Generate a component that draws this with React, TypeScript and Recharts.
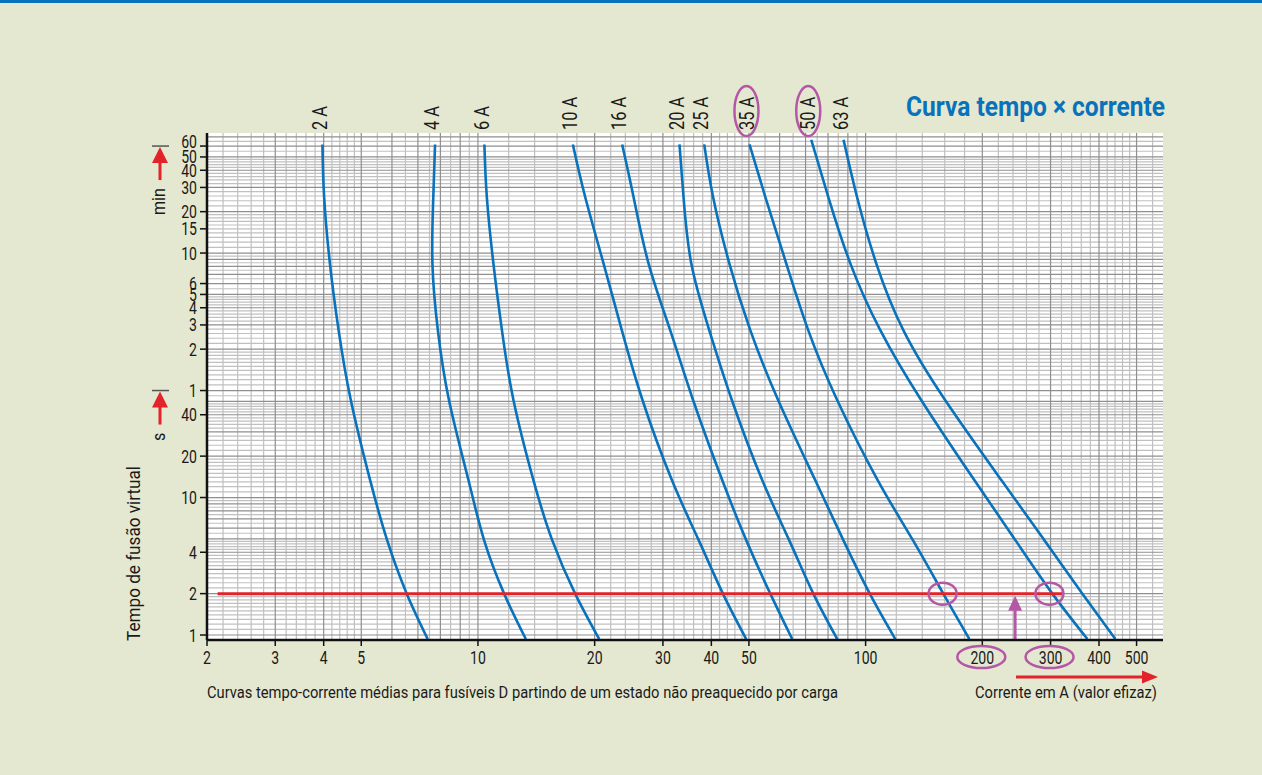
import React from 'react';
import { LineChart, Line, XAxis, YAxis, CartesianGrid, ReferenceDot } from 'recharts';

const FONT = 'Roboto, "Noto Sans", sans-serif';
const INK = '#1a1a1a';
const BLUE = '#0872bc';
const RED = '#e2232a';
const PURPLE = '#b458a6';
const BG = '#e5e8d0';

// one curve per fuse rating
const fuseNames = ['2 A', '4 A', '6 A', '10 A', '16 A', '20 A', '25 A', '35 A', '50 A', '63 A'];
const circledFuses = ['35 A', '50 A'];
// time (s) where each curve starts at the top of the chart
const fuseTopTimes = [3700, 3700, 3700, 3700, 3700, 3700, 3700, 3700, 4000, 4000];
// the following times (s) at which the currents were read
const timeLevels = [1540, 505, 165, 51, 13.4, 4.9, 2, 0.935];

// currents (A): top time first, then one value per time level
const current2A = [3.97, 4.01, 4.15, 4.37, 4.7, 5.27, 5.83, 6.55, 7.42];
const current4A = [7.75, 7.67, 7.63, 7.88, 8.42, 9.45, 10.37, 11.68, 13.29];
const current6A = [10.39, 10.54, 10.96, 11.53, 12.35, 13.9, 15.54, 17.81, 20.54];
const current10A = [17.57, 18.9, 21.08, 23.5, 26.58, 31.64, 37.1, 42.84, 49.2];
const current16A = [23.55, 25.19, 27.54, 31.32, 35.9, 42.66, 49.2, 56.76, 64.66];
const current20A = [33.1, 33.9, 35.5, 39.5, 45.2, 54.1, 63.5, 73.3, 84.5];
const current25A = [38.34, 40.4, 44.5, 50.4, 59.5, 74.1, 87.6, 102.5, 119.3];
const current35A = [50.16, 55.1, 62.4, 71.1, 84.5, 107.4, 132.4, 158.6, 185.2];
const current50A = [72.4, 80.1, 91.3, 109.1, 139.2, 190.7, 243.4, 303.2, 373.3];
const current63A = [87.7, 95.0, 106.5, 125.1, 160.5, 223.9, 289.0, 362.4, 440.8];

const fuseCurrents = [
  current2A, current4A, current6A, current10A, current16A,
  current20A, current25A, current35A, current50A, current63A,
];

// example reading: 2 s line, marked crossings and the current arrow
const readingTime = 2;
const readingFrom = 2.13;
const readingTo = 321;
const markedCurrents = [158, 298];
const arrowCurrent = 243;
const arrowTimes = [0.92, 1.53];

// axes
const xDomain = [2, 585];
const yDomain = [0.92, 4480];
const xTicks = [2, 3, 4, 5, 10, 20, 30, 40, 50, 100, 200, 300, 400, 500];
const circledTicks = [200, 300];
const yTicks = [1, 2, 4, 10, 20, 40, 60, 120, 180, 240, 300, 360, 600, 900, 1200, 1800, 2400, 3000, 3600];
const yTickLabels = ['1', '2', '4', '10', '20', '40', '1', '2', '3', '4', '5', '6', '10', '15', '20', '30', '40', '50', '60'];
const raisedYLabels = [3600];
const unitMarks = [{ t: 60, unit: 's' }, { t: 3600, unit: 'min' }];

// grid spacing: [from, to, step]
const xGridSpec = [[2, 5, 0.2], [5, 10, 0.5], [10, 50, 2], [50, 100, 5], [100, 500, 20], [500, 600, 50]];
const yGridSpec = [[1, 2, 0.1], [2, 5, 0.2], [5, 10, 0.5], [10, 20, 1], [20, 50, 2], [50, 60, 5], [60, 120, 6], [120, 300, 12], [300, 600, 30], [600, 1200, 60], [1200, 3000, 120], [3000, 4500, 300]];

const gridValues = (spec: number[][], lo: number, hi: number) => {
  const out: number[] = [];
  spec.forEach(([a, b, s]) => {
    for (let v = a; v < b - s / 2; v += s) out.push(Math.round(v * 1000) / 1000);
  });
  return out.filter((v) => v > lo && v < hi);
};
const isRound = (v: number) => {
  const d = Math.pow(10, Math.floor(Math.log10(v) + 1e-9));
  return Math.abs(v / d - Math.round(v / d)) < 1e-6;
};
const xGrid = gridValues(xGridSpec, xDomain[0], xDomain[1]);
const yGrid = gridValues(yGridSpec, yDomain[0], yDomain[1]);
const xGridMajor = xGrid.filter(isRound);
const xGridMinor = xGrid.filter((v) => !isRound(v));
const yGridMajor = yGrid.filter((v) => (v < 60 ? isRound(v) : isRound(v / 60)));
const yGridMinor = yGrid.filter((v) => !yGridMajor.includes(v));

const series = fuseNames.map((name, k) => {
  const times = [fuseTopTimes[k], ...timeLevels];
  return { name, points: fuseCurrents[k].map((i, j) => ({ i, t: times[j] })) };
});
const readingLine = [{ i: readingFrom, t: readingTime }, { i: readingTo, t: readingTime }];
const arrowLine = arrowTimes.map((t) => ({ i: arrowCurrent, t }));

// condensed-looking text: squeeze horizontally along the text direction
const NText = ({ x, y, children, size = 18, sx = 0.78, rotate = 0, anchor = 'start', dy, weight, fill = INK, length }: any) => (
  <text
    transform={`translate(${x} ${y}) rotate(${rotate}) scale(${length ? 1 : sx} 1)`}
    x={0}
    y={0}
    dy={dy}
    textAnchor={anchor}
    fontSize={size}
    fontFamily={FONT}
    fontWeight={weight}
    fill={fill}
    textLength={length}
    lengthAdjust={length ? 'spacingAndGlyphs' : undefined}
  >
    {children}
  </text>
);

const YTick = (props: any) => {
  const { x, y, payload } = props;
  const idx = yTicks.indexOf(payload.value);
  const mark = unitMarks.find((u) => u.t === payload.value);
  const ly = raisedYLabels.includes(payload.value) ? y - 5 : y;
  return (
    <g>
      <NText x={x} y={ly} dy="0.36em" anchor="end" size={18}>
        {yTickLabels[idx]}
      </NText>
      {mark && (
        <g>
          <line x1={x - 45} x2={x - 28} y1={y} y2={y} stroke="#555" strokeWidth={1.5} />
          <path d={`M${x - 37},${y + 1} L${x - 45},${y + 17} L${x - 29},${y + 17} Z`} fill={RED} />
          <rect x={x - 38.5} y={y + 16} width={3} height={18} fill={RED} />
          <NText x={x - 39} y={y + 42} dy="0.36em" anchor="end" size={19} sx={0.85} rotate={-90}>
            {mark.unit}
          </NText>
        </g>
      )}
    </g>
  );
};

const XTick = (props: any) => {
  const { x, y, payload } = props;
  const circled = circledTicks.includes(payload.value);
  return (
    <g>
      {circled && <ellipse cx={x - 1} cy={y + 9} rx={24} ry={11} fill="none" stroke={PURPLE} strokeWidth={2.5} />}
      <NText x={x} y={y + 16} anchor="middle" size={18}>
        {payload.value}
      </NText>
    </g>
  );
};

const topLabel = (name: string) => (props: any) => {
  const { index } = props;
  if (index !== 0) return null;
  const px = props.x ?? props.viewBox?.x;
  const cx = px - 3;
  return (
    <g>
      {circledFuses.includes(name) && (
        <ellipse cx={cx} cy={111} rx={12} ry={25} fill="none" stroke={PURPLE} strokeWidth={2.5} />
      )}
      <NText x={cx} y={130} dy="0.36em" size={20} sx={0.82} rotate={-90}>
        {name}
      </NText>
    </g>
  );
};

const ArrowHead = (props: any) => {
  const { cx, cy, index } = props;
  if (index !== arrowTimes.length - 1) return <g key={`ah-${index}`} />;
  return <path key={`ah-${index}`} d={`M${cx - 7},${cy + 1} L${cx + 7},${cy + 1} L${cx},${cy - 14} Z`} fill={PURPLE} />;
};

const MarkEllipse = (props: any) => (
  <ellipse cx={props.cx} cy={props.cy} rx={14} ry={11} fill="none" stroke={PURPLE} strokeWidth={2.5} />
);

export default function App() {
  return (
    <div style={{ position: 'absolute', left: 0, top: 0, width: 1262, height: 775, background: BG, overflow: 'hidden' }}>
      <div style={{ position: 'absolute', left: 0, top: 0, width: 1262, height: 3, background: BLUE }} />
      <LineChart width={1262} height={775} margin={{ top: 133, right: 99, left: 167, bottom: 105 }}>
        <CartesianGrid
          fill="#ffffff"
          stroke="#c0c0c0"
          strokeWidth={1.2}
          verticalValues={xGridMinor}
          horizontalValues={yGridMinor}
        />
        <CartesianGrid
          stroke="#8f8f8f"
          strokeWidth={1.2}
          verticalValues={xGridMajor}
          horizontalValues={yGridMajor}
        />
        <XAxis
          type="number"
          dataKey="i"
          scale="log"
          domain={xDomain}
          ticks={xTicks}
          interval={0}
          height={30}
          tick={<XTick />}
          tickSize={6}
          tickMargin={2}
          axisLine={{ stroke: '#111', strokeWidth: 2.5 }}
          tickLine={{ stroke: '#111', strokeWidth: 1.5 }}
        />
        <YAxis
          type="number"
          dataKey="t"
          scale="log"
          domain={yDomain}
          ticks={yTicks}
          interval={0}
          width={40}
          tick={<YTick />}
          tickSize={7}
          tickMargin={3}
          axisLine={{ stroke: '#111', strokeWidth: 2.5 }}
          tickLine={{ stroke: '#111', strokeWidth: 1.5 }}
        />
        {series.map((s) => (
          <Line
            key={s.name}
            data={s.points}
            dataKey="t"
            type="natural"
            stroke={BLUE}
            strokeWidth={2.6}
            dot={false}
            activeDot={false}
            label={topLabel(s.name)}
            isAnimationActive={false}
          />
        ))}
        <Line
          data={readingLine}
          dataKey="t"
          type="linear"
          stroke={RED}
          strokeWidth={3}
          dot={false}
          activeDot={false}
          isAnimationActive={false}
        />
        <Line
          data={arrowLine}
          dataKey="t"
          type="linear"
          stroke={PURPLE}
          strokeWidth={3}
          dot={ArrowHead}
          activeDot={false}
          isAnimationActive={false}
        />
        {markedCurrents.map((c) => (
          <ReferenceDot key={c} x={c} y={readingTime} r={12} shape={MarkEllipse} />
        ))}
      </LineChart>
      <svg width={1262} height={775} style={{ position: 'absolute', left: 0, top: 0, pointerEvents: 'none' }}>
        <NText x={906} y={116} size={27} weight="bold" fill={BLUE} length={259}>
          Curva tempo × corrente
        </NText>
        <NText x={133} y={641} dy="0.36em" size={19} rotate={-90} length={175}>
          Tempo de fusão virtual
        </NText>
        <NText x={207} y={698} size={16} length={631}>
          Curvas tempo-corrente médias para fusíveis D partindo de um estado não preaquecido por carga
        </NText>
        <NText x={975} y={698} size={16} length={182}>
          Corrente em A (valor efizaz)
        </NText>
        <line x1={1016} x2={1144} y1={677} y2={677} stroke={RED} strokeWidth={3} />
        <path d="M1142,670.5 L1158,677 L1142,683.5 Z" fill={RED} />
      </svg>
    </div>
  );
}
